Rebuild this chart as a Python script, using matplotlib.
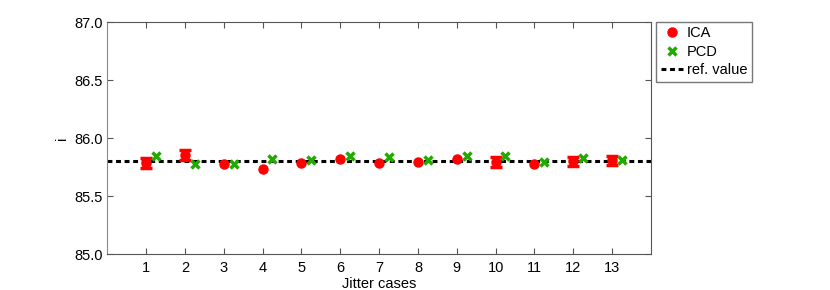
import numpy as np
import matplotlib
matplotlib.use("Agg")
import matplotlib.pyplot as plt

plt.rcParams['font.family'] = ['Liberation Sans', 'DejaVu Sans']
plt.rcParams['font.size'] = 10.5

# jitter cases 1..13
cases = np.arange(1, 14)
ica = [85.787, 85.855, 85.78, 85.738, 85.79, 85.82, 85.79, 85.795, 85.82, 85.795, 85.78, 85.80, 85.81]
ica_err = [0.04, 0.045, 0, 0, 0, 0, 0, 0, 0, 0.04, 0, 0.04, 0.04]
pcd = [85.85, 85.78, 85.775, 85.82, 85.815, 85.85, 85.84, 85.815, 85.85, 85.845, 85.795, 85.83, 85.815]
ref_value = 85.8

fig = plt.figure(figsize=(8.3, 2.9), dpi=100)
ax = fig.add_axes([0.1293, 0.1231, 0.655, 0.801])

# error bars only where they stick out of the marker
has_err = np.array(ica_err) > 0
ax.errorbar(cases[has_err], np.array(ica)[has_err], yerr=np.array(ica_err)[has_err],
            fmt='none', ecolor='#ff0000', elinewidth=2.5, capsize=4, capthick=2.5, zorder=3)
h_ica, = ax.plot(cases, ica, 'o', color='#ff0000', ms=6.5, label='ICA', zorder=3)
h_pcd, = ax.plot(cases + 0.25, pcd, 'x', color='#22aa00', ms=6, mew=2.5, label='PCD', zorder=4)
h_ref = ax.axhline(ref_value, color='black', lw=2.2, ls=(0, (1.6, 1.2)), label='ref. value', zorder=2)

ax.set_xlim(0, 14)
ax.set_ylim(85, 87)
ax.set_xticks(cases)
ax.set_yticks([85.0, 85.5, 86.0, 86.5, 87.0])
ax.set_yticklabels(['85.0', '85.5', '86.0', '86.5', '87.0'])
ax.tick_params(direction='in', length=4, colors='#555555', labelcolor='black',
               top=True, right=True)
ax.tick_params(axis='x', pad=5)
ax.tick_params(axis='y', pad=3)
for s in ax.spines.values():
    s.set_color('#555555')
ax.spines['left'].set_color('#888888')
ax.set_xlabel('Jitter cases', labelpad=1)
ax.set_ylabel('i', labelpad=4)

leg = ax.legend(handles=[h_ica, h_pcd, h_ref], loc='upper left', bbox_to_anchor=(1.01, 1.0),
                borderaxespad=0, handlelength=1.5, handletextpad=0.3, borderpad=0.3,
                labelspacing=0.3, fancybox=False, edgecolor='#555555', fontsize=10.5)
leg.get_frame().set_linewidth(1.0)

fig.savefig('out.png', dpi=100)
